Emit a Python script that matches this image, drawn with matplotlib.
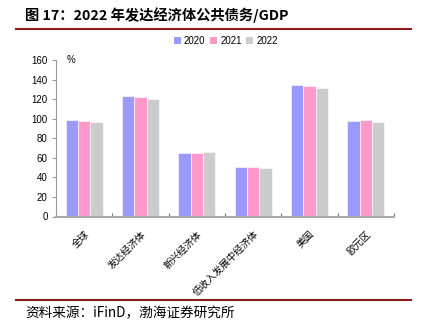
import matplotlib
matplotlib.use("Agg")
import matplotlib.pyplot as plt
import numpy as np
from matplotlib.lines import Line2D
from matplotlib.patches import Patch

plt.rcParams['font.family'] = ['Noto Sans CJK SC', 'DejaVu Sans']

categories = ["全球", "发达经济体", "新兴经济体", "低收入发展中经济体", "美国", "欧元区"]
series_names = ["2020", "2021", "2022"]
v2020 = [98.7, 123.5, 64.5, 50.2, 134.5, 97.5]
v2021 = [97.6, 122.5, 64.5, 50.5, 133.8, 99.0]
v2022 = [97.0, 120.2, 66.2, 50.0, 131.4, 96.8]
colors = ["#9999FF", "#FF99CC", "#CCCCCC"]
yticks = [0, 20, 40, 60, 80, 100, 120, 140, 160]

fig = plt.figure(figsize=(4.24, 3.25), dpi=100)
ax = fig.add_axes([56/424, 1-216.5/325, (394-56)/424, (216.5-60)/325])

x = np.arange(len(categories))
w = 0.22
for i, (vals, c) in enumerate(zip([v2020, v2021, v2022], colors)):
    ax.bar(x + (i-1)*w, vals, width=w, color=c, edgecolor='white', linewidth=0.4, label=series_names[i])

ax.set_xlim(-0.5, len(categories)-0.5)
ax.set_ylim(0, 160)
ax.set_yticks(yticks)
ax.set_yticklabels([str(t) for t in yticks], fontsize=7, family=['Liberation Sans', 'DejaVu Sans'])
ax.set_xticks(x)
ax.set_xticklabels(categories, rotation=45, ha='right', rotation_mode='anchor', fontsize=7,
                   family=['Noto Sans CJK SC', 'DejaVu Sans'])
ax.tick_params(axis='x', length=0, pad=9)
ax.set_xticks(np.arange(-0.5, len(categories)), minor=True)
ax.tick_params(axis='x', which='minor', direction='in', length=3, color='#777777', width=0.8)
ax.tick_params(axis='y', direction='out', length=3, color='#999999', width=0.8, pad=3)
for s in ['top', 'right']:
    ax.spines[s].set_visible(False)
ax.spines['left'].set_color('#999999')
ax.spines['left'].set_linewidth(0.8)
ax.spines['bottom'].set_color('#AAAAAA')
ax.spines['bottom'].set_linewidth(1.5)
ax.text(0.03, 1.0, "%", transform=ax.transAxes, fontsize=7, va='center', ha='left',
        family=['Liberation Sans', 'DejaVu Sans'])

handles = [Patch(facecolor=c, edgecolor='none') for c in colors]
fig.legend(handles, series_names, loc='center', bbox_to_anchor=(0.533, 1-41/325), ncol=3,
           frameon=False, handlelength=0.7, handleheight=0.7, handletextpad=0.3,
           columnspacing=0.5, prop={'family': ['Liberation Sans', 'DejaVu Sans'], 'size': 7})

fig.text(25/424, 1-15/325, "图 17：2022 年发达经济体公共债务/GDP", fontsize=10.3, fontweight='bold',
         va='center', ha='left', family=['Noto Sans CJK SC', 'DejaVu Sans'])
fig.add_artist(Line2D([16/424, 411/424], [1-28.5/325]*2, color='#8B1A1A', linewidth=1.5))
fig.add_artist(Line2D([16/424, 411/424], [1-300/325]*2, color='#8B1A1A', linewidth=1.5))
fig.text(25/424, 1-313/325, "资料来源：iFinD，渤海证券研究所", fontsize=9.8, style='italic',
         va='center', ha='left', family=['Noto Sans CJK SC', 'DejaVu Sans'])

fig.savefig("out.png", dpi=100, facecolor='white')
